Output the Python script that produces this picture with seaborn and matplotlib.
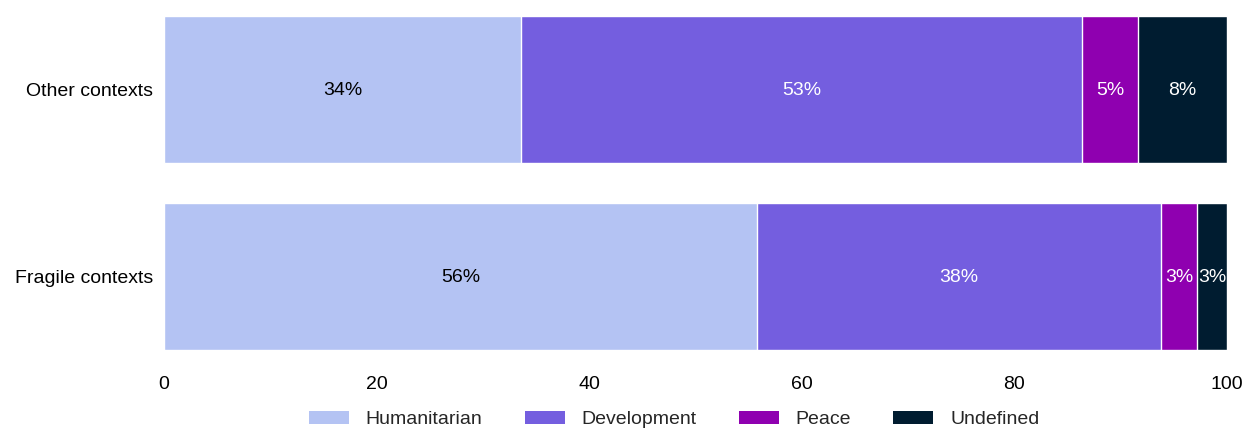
import pandas as pd
import numpy as np
import seaborn as sns
import matplotlib.pyplot as plt
from matplotlib.patches import Patch

contexts = ["Other contexts", "Fragile contexts"]
series = ["Humanitarian", "Development", "Peace", "Undefined"]
humanitarian = [33.6, 55.8]
development = [52.8, 38.0]
peace = [5.2, 3.4]
undefined = [8.4, 2.8]
colors = ["#b4c3f3", "#745edf", "#8f00b0", "#001c30"]
text_colors = ["black", "white", "white", "white"]

sns.set_theme(style="white")
plt.rcParams["font.family"] = ["Liberation Sans", "DejaVu Sans"]

df = pd.DataFrame({"context": contexts, "Humanitarian": humanitarian,
                   "Development": development, "Peace": peace, "Undefined": undefined})
cum = df[series].cumsum(axis=1)

fig = plt.figure(figsize=(12.45, 4.29), dpi=100)
ax = fig.add_axes([0.1317, 0.1841, 0.8538, 0.7786])

# layered cumulative bars, widest first
for i in reversed(range(len(series))):
    sns.barplot(x=cum[series[i]], y=df["context"], color=colors[i], orient="h",
                width=0.786, edgecolor="white", linewidth=1, saturation=1, ax=ax)

for j in range(len(contexts)):
    left = 0
    for i, s in enumerate(series):
        v = df[s][j]
        ax.text(left + v / 2, j + 0.005, f"{round(v)}%", ha="center", va="center",
                color=text_colors[i], fontsize=14)
        left += v

ax.set_xlim(0, 100)
ax.set_ylim(1.393, -0.393)
ax.set_xticks([0, 20, 40, 60, 80, 100])
ax.tick_params(axis="both", length=0, labelsize=14, colors="black")
ax.tick_params(axis="x", pad=19)
ax.tick_params(axis="y", pad=8)
ax.set_xlabel("")
ax.set_ylabel("")
sns.despine(left=True, bottom=True)

handles = [Patch(facecolor=c, edgecolor="none", label=s) for s, c in zip(series, colors)]
fig.legend(handles=handles, loc="center", bbox_to_anchor=(0.5414, 0.022), ncol=4,
           frameon=False, fontsize=14, handlelength=2.06, handleheight=0.67,
           columnspacing=2.16, handletextpad=0.87, borderpad=0, borderaxespad=0)

fig.savefig("out.png", dpi=100)
